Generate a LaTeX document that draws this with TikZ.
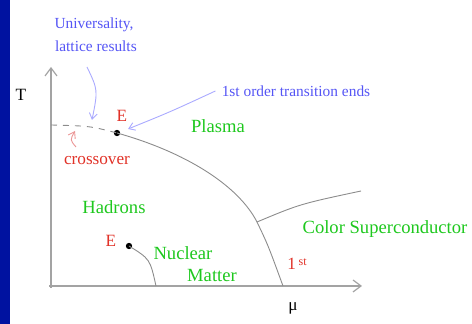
\documentclass[tikz,border=0pt]{standalone}
\usepackage{fontspec}
\setmainfont{Liberation Serif}
\usetikzlibrary{arrows.meta}

\definecolor{barblue}{RGB}{0,18,160}
\definecolor{phasegreen}{RGB}{30,200,30}
\definecolor{pointred}{RGB}{225,50,40}
\definecolor{noteblue}{RGB}{85,85,245}
\definecolor{arrowblue}{RGB}{170,170,255}
\definecolor{arrowred}{RGB}{235,150,150}
\definecolor{linegray}{RGB}{140,140,140}

\tikzset{
phase/.style={text=phasegreen,font=\fontsize{9.3}{11}\selectfont,inner sep=0pt},
crit/.style={text=pointred,font=\fontsize{8.6}{10}\selectfont,inner sep=0pt},
note/.style={text=noteblue,font=\fontsize{7.7}{11.5}\selectfont,inner sep=0pt},
axlabel/.style={text=black,font=\fontsize{8.6}{10}\selectfont,inner sep=0pt},
boundary/.style={linegray,line width=0.45pt},
pointer/.style={-{Straight Barb[length=3pt,width=4pt]},line width=0.45pt}
}

\begin{document}
\begin{tikzpicture}[x=0.5pt,y=-0.5pt,>={Straight Barb[length=4pt,width=6pt]}]
\useasboundingbox (0,0) rectangle (472,324);

% Side bar
\fill[barblue] (0,0) rectangle (10,324);

% Axes
\coordinate (origin) at (51,286);
\coordinate (ttop) at (51,67);
\coordinate (mright) at (362,286);
\draw[->,linegray!80,line width=0.6pt] (49,286) -- (mright);
\draw[->,linegray!80,line width=0.6pt] (51,288) -- (ttop);
\node[axlabel] (tlab) at (21,95) {T};
\node[axlabel] (mulab) at (293,308) {μ};

% Critical points
\filldraw (117,133) circle (2.7) coordinate (E1);
\filldraw (129,246) circle (2.7) coordinate (E2);
\coordinate (cross) at (51,125);
\coordinate (bend) at (257,222);
\coordinate (mufoot) at (283,286);
\coordinate (nucfoot) at (156,286);
\coordinate (csend) at (361,191);

% Phase boundaries
\draw[boundary,dashed] (cross) .. controls (90,126) .. (E1);
\draw[boundary] (E1) .. controls (185,152) and (238,185) .. (bend)
  .. controls (268,245) .. (mufoot);
\draw[boundary] (bend) .. controls (300,204) .. (csend);
\draw[boundary] (E2) .. controls (150,259) .. (nucfoot);

% Labels
\node[crit] (e1lab) at (122,116) {E};
\node[crit] (e2lab) at (111,241) {E};
\node[crit] (crosslab) at (97,161) {crossover};
\node[crit] (firstlab) at (297,264) {1\,\raisebox{0.6ex}{\fontsize{6}{7}\selectfont st}};
\node[phase] (plasma) at (218,126) {Plasma};
\node[phase] (hadrons) at (114,207) {Hadrons};
\node[phase] (nuclear) at (183,253) {Nuclear};
\node[phase] (matter) at (212,276) {Matter};
\node[phase] (colorsc) at (385,229) {Color Superconductor};
\node[note,align=center] (univ) at (94,35) {Universality,\\ \ lattice results};
\node[note] (firstorder) at (296,91) {1st order transition ends};

% Pointers
\draw[pointer,arrowblue] (87,67) .. controls (98,90) .. (92,120);
\draw[pointer,arrowblue] (firstorder.west) ++(-6,0) .. controls (170,112) .. (128,129);
\draw[pointer,arrowred] (76,147) .. controls (70,140) .. (75,131);

\end{tikzpicture}
\end{document}
